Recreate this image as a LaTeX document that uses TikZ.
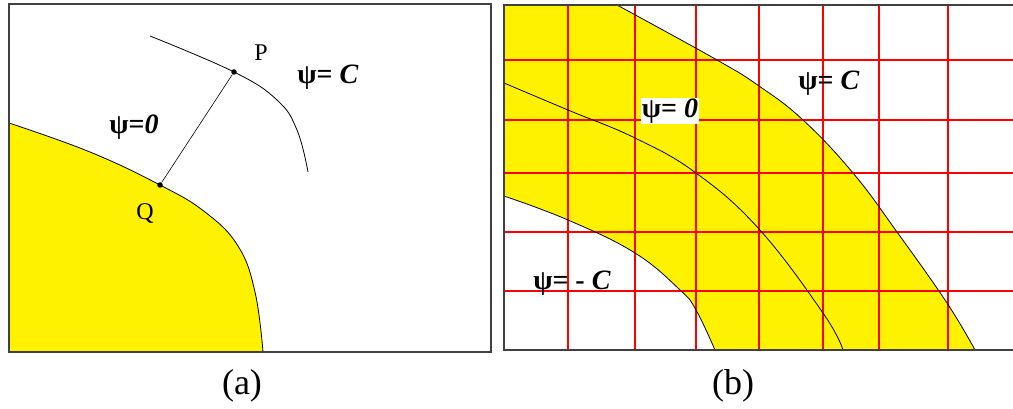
\documentclass[tikz,border=0pt]{standalone}
\usepackage{fontspec}
\setmainfont{Liberation Serif}
\usepackage{tikz}
\begin{document}
\begin{tikzpicture}[
  x=1pt, y=-1pt,
  frame/.style={draw=black!75, line width=1.3pt},
  curve/.style={draw=black, line width=0.8pt},
  redline/.style={draw=red, line width=1.1pt},
  lbl/.style={font=\fontsize{28}{30}\selectfont\bfseries, inner sep=1pt},
  pt/.style={font=\fontsize{24}{26}\selectfont, inner sep=1pt},
  sublbl/.style={font=\fontsize{36}{38}\selectfont},
  dot/.style={circle, fill=black, inner sep=0pt, minimum size=5.5pt}
]
  \useasboundingbox (0,0) rectangle (1013,409);

  %-- Panel (a)
  \fill[yellow] plot[smooth, tension=0.7] coordinates {(9,123) (90,152) (160,185) (205,212) (238,246) (255,292) (263,352)}
    -- (9,352) -- cycle;
  \draw[curve] plot[smooth, tension=0.7] coordinates {(9,123) (90,152) (160,185) (205,212) (238,246) (255,292) (263,352)};
  \draw[curve] plot[smooth, tension=0.7] coordinates {(150,36) (234,72) (277,100) (297,130) (308,172)};
  \node[dot] (P) at (234,72) {};
  \node[dot] (Q) at (160,185) {};
  \draw[curve, line width=0.6pt] (Q) -- (P);
  \node[pt]  (pP)  at (261,53)  {P};
  \node[pt]  (pQ)  at (145,214) {Q};
  \node[lbl] (lC)  at (328,77)  {ψ= \textit{C}};
  \node[lbl] (l0)  at (134,127) {ψ=\textit{0}};
  \draw[frame] (9,4) rectangle (491,352);
  \node[sublbl] (ca) at (242,386) {(a)};

  %-- Panel (b)
  \fill[yellow] (504,5) -- (617,5)
    -- plot[smooth, tension=0.7] coordinates {(617,5) (717,60) (759,86) (803,120) (853,173) (897,232) (947,303) (975,350)}
    -- (715,350)
    -- plot[smooth, tension=0.7] coordinates {(715,350) (696,310) (680,290) (635,253) (568,220) (504,196)}
    -- cycle;
  \foreach \gx in {568,635,696,759,823,879,948}
    \draw[redline] (\gx,5) -- (\gx,350);
  \foreach \gy in {60,120,173,232,291}
    \draw[redline] (504,\gy) -- (1013,\gy);
  \draw[curve] plot[smooth, tension=0.7] coordinates {(617,5) (717,60) (759,86) (803,120) (853,173) (897,232) (947,303) (975,350)};
  \draw[curve] plot[smooth, tension=0.7] coordinates {(504,83) (568,110) (635,138) (696,173) (759,229) (823,313) (843,350)};
  \draw[curve] plot[smooth, tension=0.7] coordinates {(504,196) (568,220) (635,253) (680,290) (696,310) (715,350)};
  \node[lbl]               (rC) at (829,83)  {ψ= \textit{C}};
  \node[lbl, fill=white]   (r0) at (670,111) {ψ= \textit{0}};
  \node[lbl]               (rm) at (572,283) {ψ= - \textit{C}};
  \draw[frame] (1013,5) -- (504,5) -- (504,350) -- (1013,350);
  \node[sublbl] (cb) at (733,386) {(b)};
\end{tikzpicture}
\end{document}
